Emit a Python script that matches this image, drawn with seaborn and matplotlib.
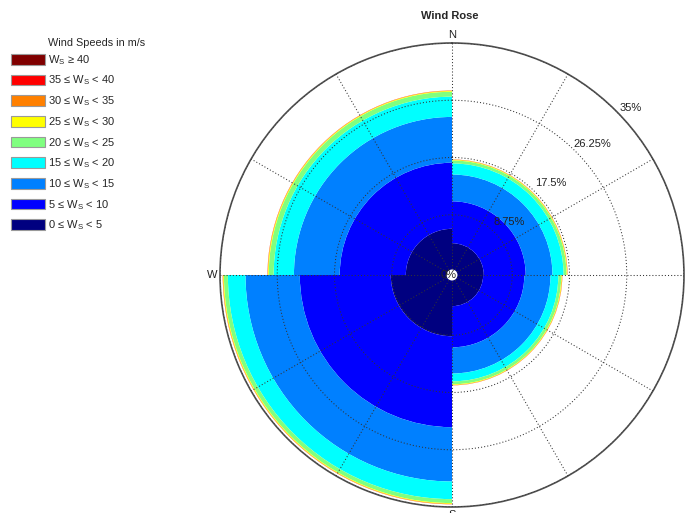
import numpy as np
import matplotlib
matplotlib.use("Agg")
import matplotlib.pyplot as plt
from matplotlib.patches import Patch, Circle
import seaborn as sns

# ---------------- data ----------------
directions = ["NE", "SE", "SW", "NW"]          # quadrant sectors, clockwise from N
speed_bins = ["0-5", "5-10", "10-15", "15-20", "20-25", "25-30", "30-35", "35-40", ">=40"]
bin_labels = [
    r"0 ≤ $\mathregular{W_S}$ < 5",
    r"5 ≤ $\mathregular{W_S}$ < 10",
    r"10 ≤ $\mathregular{W_S}$ < 15",
    r"15 ≤ $\mathregular{W_S}$ < 20",
    r"20 ≤ $\mathregular{W_S}$ < 25",
    r"25 ≤ $\mathregular{W_S}$ < 30",
    r"30 ≤ $\mathregular{W_S}$ < 35",
    r"35 ≤ $\mathregular{W_S}$ < 40",
    r"$\mathregular{W_S}$ ≥ 40",
]
# frequency (%) per speed bin, per direction [NE, SE, SW, NW]
freq_0_5   = [4.4, 4.3, 8.9, 6.6]
freq_5_10  = [6.4, 6.3, 13.9, 10.1]
freq_10_15 = [4.1, 4.0, 8.3, 7.0]
freq_15_20 = [1.7, 1.2, 2.7, 3.1]
freq_20_25 = [0.45, 0.45, 0.6, 0.75]
freq_25_30 = [0.10, 0.10, 0.12, 0.12]
freq_30_35 = [0.04, 0.04, 0.05, 0.05]
freq_35_40 = [0.015, 0.015, 0.02, 0.02]
freq_ge40  = [0.0, 0.0, 0.0, 0.0]
all_freqs = [freq_0_5, freq_5_10, freq_10_15, freq_15_20, freq_20_25,
             freq_25_30, freq_30_35, freq_35_40, freq_ge40]

ring_values = [8.75, 17.5, 26.25, 35]
ring_labels = ["8.75%", "17.5%", "26.25%", "35%"]
compass_labels = ["N", "E", "S", "W"]

colors = sns.color_palette(["#000080", "#0000FF", "#0080FF", "#00FFFF", "#80FF80",
                            "#FFFF00", "#FF8000", "#FF0000", "#800000"])

# ---------------- style ----------------
sns.set_style("white")
plt.rcParams["font.family"] = ["Liberation Sans", "DejaVu Sans"]

fig = plt.figure(figsize=(6.87, 5.13), dpi=100)
W, H = 687.0, 513.0
cx, cy, R = 452.0, 275.0, 232.0
ax = fig.add_axes([(cx - R) / W, (H - cy - R) / H, 2 * R / W, 2 * R / H], projection="polar")
ax.set_theta_zero_location("N")
ax.set_theta_direction(-1)
ax.set_facecolor("white")

theta = np.deg2rad(45 + 90 * np.arange(len(directions)))
bottom = np.zeros(len(directions))
for vals, col in zip(all_freqs, colors):
    vals = np.asarray(vals)
    ax.bar(theta, vals, width=np.pi / 2, bottom=bottom, color=col,
           edgecolor="none", linewidth=0, zorder=1)
    bottom = bottom + vals

ax.set_ylim(0, 35)
ax.set_rorigin(-0.46)

ax.set_thetagrids(np.arange(0, 360, 30), labels=[""] * 12)
ax.set_rgrids(ring_values, labels=[""] * 4)
ax.set_axisbelow(False)
ax.grid(True, color="#333333", linewidth=0.75, linestyle=(0, (1, 2)))
ax.spines["polar"].set_color("#505050")
ax.spines["polar"].set_linewidth(1.2)
ax.tick_params(axis="both", length=0, pad=0)

# compass labels (E and S sit at the canvas edge, as in the original)
for i, lab in enumerate(compass_labels):
    ax.text(np.deg2rad(90 * i), 36.2, lab, ha="center", va="center",
            fontsize=8, color="#222222", clip_on=False)

# ring labels
for v, lab in zip(ring_values, ring_labels):
    ax.text(np.deg2rad(47), min(v + 2.7, 36.9), lab, ha="center", va="center",
            fontsize=8, color="#222222", clip_on=False)

# center marker
ax.add_patch(Circle((0.5, 0.5), 5.5 / (2 * R), transform=ax.transAxes,
                    facecolor="white", edgecolor="none", zorder=5, clip_on=False))
ax.text(0.5 - 3 / (2 * R), 0.5, "0%", transform=ax.transAxes, ha="center",
        va="center", fontsize=8, color="#222222", zorder=6)

# title
fig.text(450 / W, 1 - 15.7 / H, "Wind Rose", ha="center", va="center",
         fontsize=8, fontweight="bold")

# legend
handles = [Patch(facecolor=c, edgecolor="#9a9a9a", linewidth=0.8) for c in colors][::-1]
labels = bin_labels[::-1]
fig.text(97 / W, 1 - 42.7 / H, "Wind Speeds in m/s", ha="center", va="center", fontsize=7.8)
fig.legend(handles, labels, loc="upper left", bbox_to_anchor=(11 / W, 1 - 53 / H),
           frameon=False, fontsize=8, handlelength=3.1, handleheight=1.1,
           handletextpad=0.2, labelspacing=0.62, borderpad=0, borderaxespad=0)

fig.savefig("out.png", dpi=100)
